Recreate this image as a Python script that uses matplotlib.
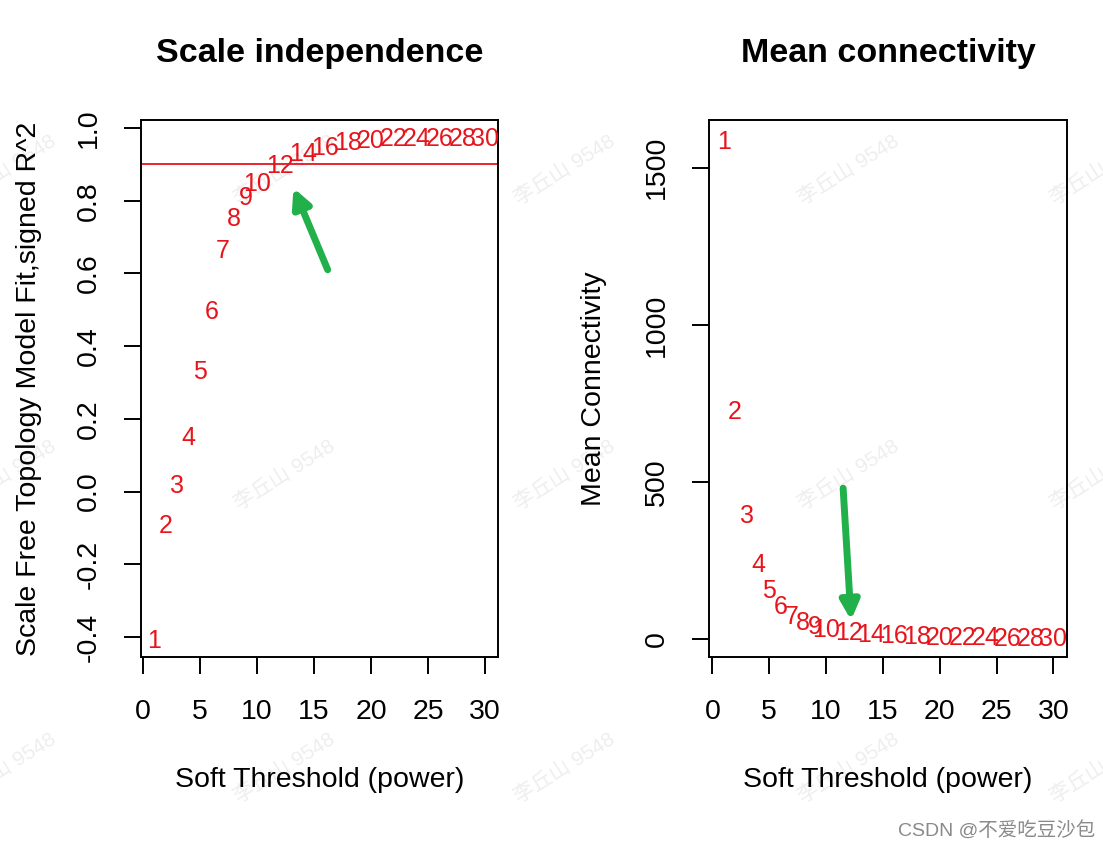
import matplotlib.pyplot as plt

plt.rcParams['font.family'] = ['Liberation Sans', 'Noto Sans CJK SC', 'DejaVu Sans']

# soft threshold powers
powers = [1, 2, 3, 4, 5, 6, 7, 8, 9, 10, 12, 14, 16, 18, 20, 22, 24, 26, 28, 30]
# signed R^2 of scale free fit
fit_r2 = [-0.41, -0.094, 0.014, 0.147, 0.329, 0.495, 0.661, 0.75, 0.808, 0.846,
          0.896, 0.929, 0.946, 0.96, 0.965, 0.97, 0.97, 0.97, 0.97, 0.97]
# mean connectivity
mean_k = [1582, 723, 393, 235, 152, 101, 70, 51, 38, 29,
          19, 13, 9, 6, 4, 3, 2, 1.5, 1, 0.8]
r2_cut = 0.9

red = '#e8141c'
green = '#22b04b'

fig = plt.figure(figsize=(11.03, 8.49), dpi=100)
ax1 = fig.add_axes([0.1278, 0.2262, 0.3237, 0.6325])
ax2 = fig.add_axes([0.6428, 0.2262, 0.3246, 0.6325])

for ax in (ax1, ax2):
    for s in ax.spines.values():
        s.set_linewidth(1.4)
    ax.tick_params(length=12, width=1.4, labelsize=20.5, pad=16)
    ax.tick_params(axis='x', pad=18)
    ax.set_xticks([0, 5, 10, 15, 20, 25, 30])
    ax.set_xlabel('Soft Threshold (power)', fontsize=20.5)
    ax.xaxis.set_label_coords(0.5, -0.205)

# 左: scale independence
for p, v in zip(powers, fit_r2):
    ax1.text(p, v, str(p), color=red, fontsize=18, ha='center', va='center')
ax1.axhline(r2_cut, color=red, lw=1.3)
ax1.set_xlim(-0.18, 31.14)
ax1.set_ylim(-0.455, 1.022)
yt = [-0.4, -0.2, 0.0, 0.2, 0.4, 0.6, 0.8, 1.0]
ax1.set_yticks(yt)
ax1.set_yticklabels(['%.1f' % t for t in yt], rotation=90, va='center')
ax1.set_ylabel('Scale Free Topology Model Fit,signed R^2', fontsize=20.5)
ax1.yaxis.set_label_coords(-0.278, 0.5)
ax1.set_title('Scale independence', fontsize=24.5, fontweight='bold', pad=42)
ax1.annotate('', xy=(13.2, 0.835), xytext=(16.2, 0.61),
             arrowprops=dict(arrowstyle='-|>,head_length=1.1,head_width=0.55',
                             color=green, lw=5, shrinkA=0, shrinkB=0))

# 右: mean connectivity
for p, v in zip(powers, mean_k):
    ax2.text(p, v, str(p), color=red, fontsize=18, ha='center', va='center')
ax2.set_xlim(-0.3, 31.2)
ax2.set_ylim(-57, 1652)
ax2.set_yticks([0, 500, 1000, 1500])
ax2.set_yticklabels(['0', '500', '1000', '1500'], rotation=90, va='center')
ax2.set_ylabel('Mean Connectivity', fontsize=20.5)
ax2.yaxis.set_label_coords(-0.285, 0.5)
ax2.set_title('Mean connectivity', fontsize=24.5, fontweight='bold', pad=42)
ax2.annotate('', xy=(12.2, 60), xytext=(11.5, 480),
             arrowprops=dict(arrowstyle='-|>,head_length=1.1,head_width=0.55',
                             color=green, lw=5, shrinkA=0, shrinkB=0))

# 水印 (semi transparent, edge ones are cut off like in the screenshot)
for wx in [0.005, 0.258, 0.512, 0.769, 0.998]:
    for wy in [0.80, 0.44, 0.095]:
        fig.text(wx, wy, '李丘山 9548', color=(0, 0, 0, 0.07), fontsize=15,
                 rotation=32, ha='center', va='center')
fig.text(0.993, 0.022, 'CSDN @不爱吃豆沙包', color='#8a8a8a', fontsize=14,
         ha='right', va='center')

fig.savefig('out.png', dpi=100)
